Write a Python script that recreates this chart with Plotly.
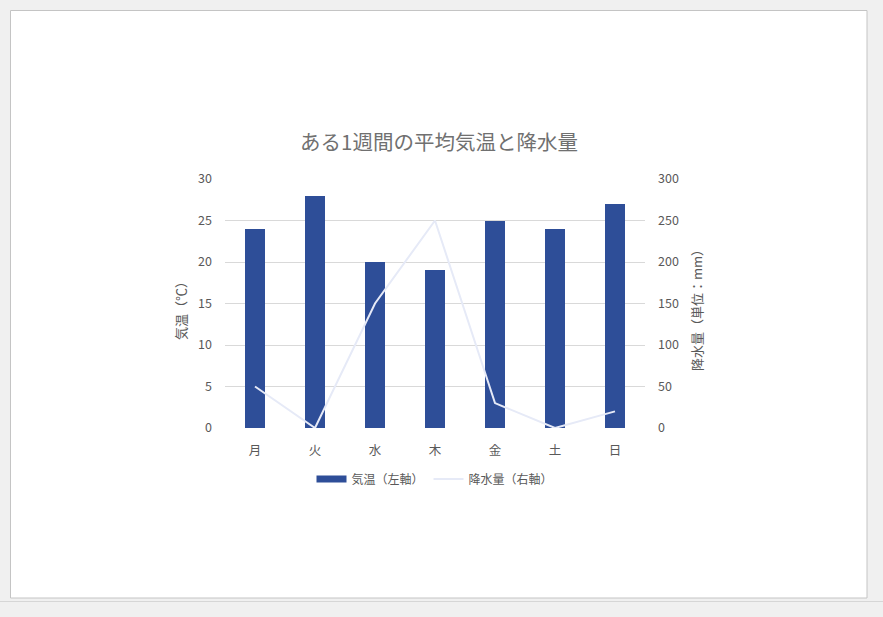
import plotly.graph_objects as go

days = ["月", "火", "水", "木", "金", "土", "日"]
temperature = [24, 28, 20, 19, 25, 24, 27]
rainfall = [50, 0, 150, 250, 30, 0, 20]
left_ticks = [0, 5, 10, 15, 20, 25, 30]
right_ticks = [0, 50, 100, 150, 200, 250, 300]

W, H = 883, 617
L, R, T, B = 225, 645, 179, 428
FONT = "Noto Sans CJK JP"
TXT = "#595959"
BAR = "#2e4e98"

def px(x):
    return (x - L) / (R - L)

def py(y):
    return (B - y) / (B - T)

fig = go.Figure()
fig.add_trace(go.Bar(
    x=days, y=temperature, name="気温（左軸）",
    marker=dict(color=BAR, line=dict(width=0)),
    width=0.33, yaxis="y", showlegend=False, legendgroup="t",
))
# legend key for the bars (wide rectangle look)
fig.add_trace(go.Scatter(
    x=[None], y=[None], name="気温（左軸）", mode="lines",
    line=dict(color=BAR, width=7), legendgroup="t", yaxis="y",
))
fig.add_trace(go.Scatter(
    x=days, y=rainfall, name="降水量（右軸）", mode="lines",
    line=dict(color="#e6eaf7", width=2), yaxis="y2",
))

fig.update_layout(
    width=W, height=H,
    margin=dict(l=L, r=W - R, t=T, b=H - B, pad=0),
    paper_bgcolor="#f0f0f0",
    plot_bgcolor="rgba(0,0,0,0)",
    font=dict(family=FONT, size=12, color=TXT),
    title=dict(text="ある1週間の平均気温と降水量", x=439 / W, xanchor="center",
               y=1 - 143 / H, yanchor="middle", yref="container",
               font=dict(size=20.5, color="#707070", family=FONT)),
    showlegend=True,
    legend=dict(orientation="h", x=0.5, xanchor="center", y=py(479), yanchor="middle",
                font=dict(size=12, color=TXT), bgcolor="rgba(0,0,0,0)",
                itemwidth=30),
    xaxis=dict(showgrid=False, showline=False, ticks="", zeroline=False,
               ticklabelstandoff=13, tickfont=dict(size=12.5, color=TXT)),
    yaxis=dict(range=[0, 30], tickvals=left_ticks, showgrid=True, gridcolor="#d9d9d9",
               gridwidth=1, zeroline=False, showline=False, ticks="",
               ticklabelstandoff=12, tickfont=dict(size=12.5, color=TXT)),
    yaxis2=dict(range=[0, 300], tickvals=right_ticks, overlaying="y", side="right",
                showgrid=False, zeroline=False, showline=False, ticks="",
                ticklabelstandoff=12, tickfont=dict(size=12.5, color=TXT)),
    bargap=0,
)

# page background and frame
fig.add_shape(type="rect", xref="paper", yref="paper",
              x0=px(10.5), x1=px(867), y0=py(598), y1=py(10.5),
              fillcolor="white", line=dict(color="#c4c4c4", width=1), layer="below")
fig.add_shape(type="line", xref="paper", yref="paper",
              x0=px(0), x1=px(W), y0=py(601.5), y1=py(601.5),
              line=dict(color="#d6d6d6", width=1), layer="below")

# axis titles
fig.add_annotation(text="気温（℃）", xref="paper", yref="paper", x=px(180), y=py(308),
                   showarrow=False, textangle=-90, xanchor="center", yanchor="middle",
                   font=dict(size=13, color=TXT, family=FONT))
fig.add_annotation(text="降水量（単位：mm）", xref="paper", yref="paper", x=px(696), y=py(307),
                   showarrow=False, textangle=-90, xanchor="center", yanchor="middle",
                   font=dict(size=13, color=TXT, family=FONT))

fig.write_html(
    "out.html",
    config={"displayModeBar": False},
    post_script="document.body.style.margin='0';document.body.style.background='#f0f0f0';",
)
